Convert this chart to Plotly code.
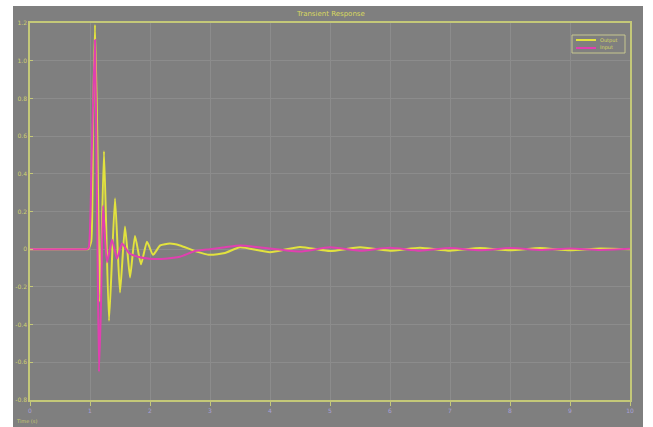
import plotly.graph_objects as go

# ---- data ----
time_yellow = [0.0, 0.5, 0.9, 0.97, 1.02, 1.05, 1.083, 1.117, 1.167, 1.233, 1.317, 1.417, 1.5,
               1.583, 1.667, 1.75, 1.85, 1.95, 2.05, 2.17, 2.33, 2.5, 2.75, 3.0, 3.25,
               3.5, 4.0, 4.5, 5.0, 5.5, 6.0, 6.5, 7.0, 7.5, 8.0, 8.5, 9.0, 9.5, 10.0]
resp_yellow = [0.0, 0.0, 0.0, 0.0, 0.04, 0.68, 1.19, 0.68, -0.28, 0.52, -0.38, 0.27, -0.23,
               0.12, -0.15, 0.07, -0.08, 0.04, -0.03, 0.02, 0.03, 0.02, -0.01, -0.03, -0.02,
               0.01, -0.016, 0.012, -0.01, 0.01, -0.008, 0.008, -0.008, 0.006, -0.006, 0.006, -0.006, 0.004, 0.0]

time_magenta = [0.0, 0.5, 0.9, 0.95, 0.98, 1.03, 1.083, 1.117, 1.15, 1.183, 1.217, 1.283, 1.367,
                1.45, 1.533, 1.65, 1.8, 2.0, 2.25, 2.5, 2.75, 3.0, 3.25, 3.5, 4.0,
                4.5, 5.0, 5.5, 6.0, 6.5, 7.0, 7.5, 8.0, 8.5, 9.0, 9.5, 10.0]
resp_magenta = [0.0, 0.0, 0.0, 0.0, 0.01, 0.52, 1.11, 0.25, -0.65, -0.3, 0.23, -0.07, 0.05,
                -0.05, 0.03, -0.02, -0.04, -0.05, -0.05, -0.04, -0.01, 0.0, 0.01, 0.02, 0.004,
                -0.012, 0.01, -0.008, 0.008, -0.008, 0.006, -0.006, 0.006, -0.004, 0.004, -0.004, 0.002]

x_ticks = [0, 1, 2, 3, 4, 5, 6, 7, 8, 9, 10]
y_ticks = [-0.8, -0.6, -0.4, -0.2, 0, 0.2, 0.4, 0.6, 0.8, 1.0, 1.2]
y_labels = ["-0.8", "-0.6", "-0.4", "-0.2", "0", "0.2", "0.4", "0.6", "0.8", "1.0", "1.2"]

series_names = ["Output", "Input"]
series_colors = ["#e2e23e", "#e040b0"]
title_text = "Transient Response"
corner_text = "Time (s)"

# ---- figure ----
W, H = 653, 427
L, R, T, B = 30, 23, 23, 27
pw, ph = W - L - R, H - T - B

def px_x(p):
    return (p - L) / pw

def px_y(p):
    return (H - B - p) / ph

fig = go.Figure()
fig.add_trace(go.Scatter(x=time_yellow, y=resp_yellow, mode="lines", name=series_names[0],
                         line=dict(color=series_colors[0], width=2, shape="spline", smoothing=0.5)))
fig.add_trace(go.Scatter(x=time_magenta, y=resp_magenta, mode="lines", name=series_names[1],
                         line=dict(color=series_colors[1], width=2, shape="spline", smoothing=0.5)))

# grey panel background
fig.add_shape(type="rect", xref="paper", yref="paper",
              x0=px_x(13), x1=px_x(643), y0=px_y(427), y1=px_y(6),
              fillcolor="#7f7f7f", line=dict(width=0), layer="below")

# compact legend box drawn by hand
fig.add_shape(type="rect", xref="paper", yref="paper",
              x0=px_x(572), x1=px_x(625), y0=px_y(53), y1=px_y(35),
              fillcolor="#7f7f7f", line=dict(color="#c8c890", width=1), layer="above")
annotations = [
    dict(text=title_text, xref="paper", yref="paper", x=px_x(330), y=px_y(14),
         xanchor="center", yanchor="middle", showarrow=False,
         font=dict(size=7, color="#d8d860")),
    dict(text=corner_text, xref="paper", yref="paper", x=px_x(14), y=px_y(421),
         xanchor="left", yanchor="middle", showarrow=False,
         font=dict(size=5, color="#c8c870")),
]
for i, (nm, col) in enumerate(zip(series_names, series_colors)):
    yy = 40 + i * 8
    fig.add_shape(type="line", xref="paper", yref="paper",
                  x0=px_x(576), x1=px_x(596), y0=px_y(yy), y1=px_y(yy),
                  line=dict(color=col, width=2), layer="above")
    annotations.append(dict(text=nm, xref="paper", yref="paper", x=px_x(598), y=px_y(yy),
                            xanchor="left", yanchor="middle", showarrow=False,
                            font=dict(size=5, color="#d8d860")))

fig.update_layout(
    width=W, height=H,
    margin=dict(l=L, r=R, t=T, b=B),
    paper_bgcolor="white",
    plot_bgcolor="rgba(0,0,0,0)",
    font=dict(family="DejaVu Sans", size=6, color="#d0d070"),
    showlegend=False,
    annotations=annotations,
)

fig.update_xaxes(range=[0, 10], tickvals=x_ticks, ticktext=[str(v) for v in x_ticks],
                 showgrid=True, gridcolor="#8c8c8c", gridwidth=1,
                 showline=True, linecolor="#c4c878", linewidth=1.5, mirror=True,
                 ticks="outside", ticklen=4, tickcolor="#c4c878",
                 tickfont=dict(size=6, color="#a8a0d8"), zeroline=False)
fig.update_yaxes(range=[-0.8, 1.2], tickvals=y_ticks, ticktext=y_labels,
                 showgrid=True, gridcolor="#8c8c8c", gridwidth=1,
                 showline=True, linecolor="#c4c878", linewidth=1.5, mirror=True,
                 ticks="inside", ticklen=3, tickcolor="#c4c878",
                 tickfont=dict(size=6, color="#d0d070"), zeroline=False)

fig.write_html("out.html")
